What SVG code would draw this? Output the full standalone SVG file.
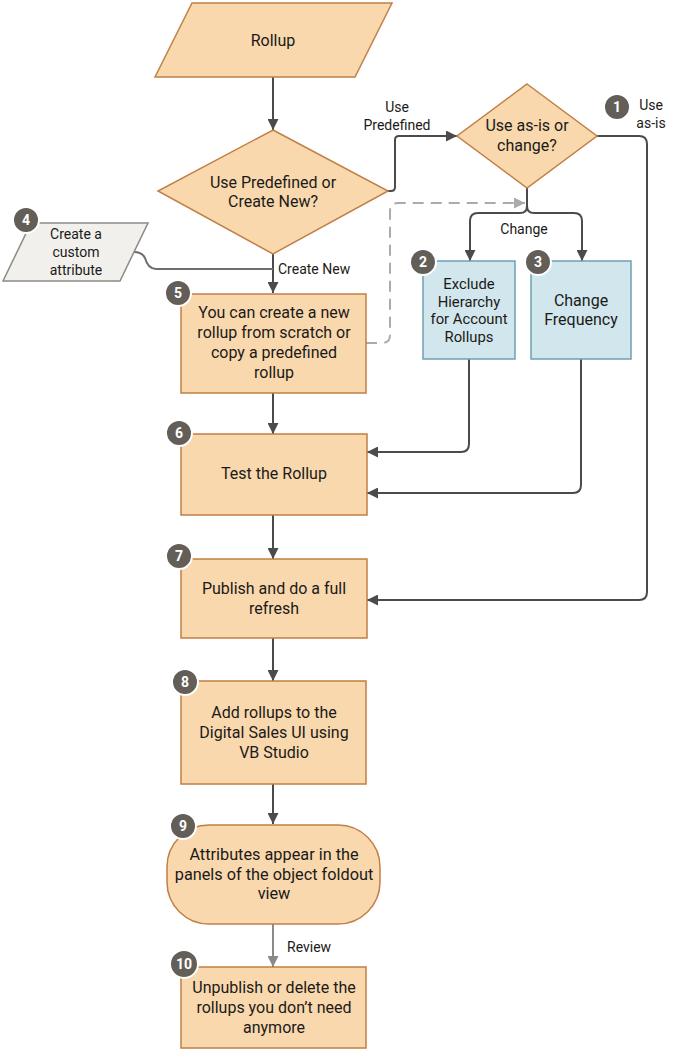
<svg xmlns="http://www.w3.org/2000/svg" width="676" height="1051" viewBox="0 0 676 1051">
<defs>
<style>
.o{fill:#f9d8ae;stroke:#c17f45;stroke-width:1.5}
.b{fill:#d2e6ed;stroke:#6fa0b2;stroke-width:1.5}
.g{fill:#f1f0ec;stroke:#8c8a85;stroke-width:1.5}
.t{font-family:Roboto,"Liberation Sans",sans-serif;font-size:16px;fill:#1b1a18;text-anchor:middle}
.s{font-size:14.8px}
.w{font-size:16.3px}
.l{font-family:Roboto,"Liberation Sans",sans-serif;font-size:14px;fill:#1b1a18}
.c{fill:none;stroke:#4b4b4b;stroke-width:2}
.d{fill:none;stroke:#ababab;stroke-width:2;stroke-dasharray:11,7}
.bc{fill:#645e58;stroke:#fff;stroke-width:2}
.bn{font-family:Roboto,"Liberation Sans",sans-serif;font-size:14px;font-weight:bold;fill:#fff;text-anchor:middle}
</style>
<marker id="a" viewBox="0 0 10 10" refX="10" refY="5" markerWidth="5.5" markerHeight="5.5" orient="auto" markerUnits="strokeWidth"><path d="M0,0L10,5L0,10z" fill="#4b4b4b"/></marker>
<marker id="ag" viewBox="0 0 10 10" refX="10" refY="5" markerWidth="5.5" markerHeight="5.5" orient="auto" markerUnits="strokeWidth"><path d="M0,0L10,5L0,10z" fill="#ababab"/></marker>
<marker id="ag2" viewBox="0 0 10 10" refX="10" refY="5" markerWidth="5.5" markerHeight="5.5" orient="auto" markerUnits="strokeWidth"><path d="M0,0L10,5L0,10z" fill="#8a8a8a"/></marker>
</defs>

<g id="connectors">
<path class="c" d="M273,77V130" marker-end="url(#a)"/>
<path class="c" d="M388,191H391Q395,191 395,187V140Q395,136 399,136H457" marker-end="url(#a)"/>
<path class="c" d="M597,136H639Q647,136 647,144V592Q647,600 639,600H367" marker-end="url(#a)"/>
<path class="c" d="M527,188V206Q527,213 520,213H478Q470,213 470,221V261" marker-end="url(#a)"/>
<path class="c" d="M527,206Q527,213 534,213H574Q582,213 582,221V261" marker-end="url(#a)"/>
<path class="d" d="M366,343H382Q390,343 390,335V211Q390,203 398,203H525" marker-end="url(#ag)"/>
<path class="c" d="M273,254V293" marker-end="url(#a)"/>
<path fill="none" stroke="#6e6e6e" stroke-width="2" d="M134,252Q142,252 145,258Q148,269 156,269H273"/>
<path class="c" d="M469,359V444Q469,452 461,452H367" marker-end="url(#a)"/>
<path class="c" d="M581,359V485Q581,493 573,493H367" marker-end="url(#a)"/>
<path class="c" d="M273,393V434" marker-end="url(#a)"/>
<path class="c" d="M273,515V559" marker-end="url(#a)"/>
<path class="c" d="M273,638V681" marker-end="url(#a)"/>
<path class="c" d="M273,784V824" marker-end="url(#a)"/>
<path fill="none" stroke="#8a8a8a" stroke-width="2" d="M273,924V967" marker-end="url(#ag2)"/>
<text class="l" x="397" y="112" text-anchor="middle">Use</text>
<text class="l" x="397" y="130" text-anchor="middle">Predefined</text>
<text class="l" x="651" y="110" text-anchor="middle">Use</text>
<text class="l" x="651" y="128" text-anchor="middle">as-is</text>
<text class="l" x="524" y="234" text-anchor="middle">Change</text>
<text class="l" x="278" y="274">Create New</text>
<text class="l" x="287" y="952">Review</text>
</g>

<g id="n-rollup">
<path class="o" d="M192,3H392L355,77H155z"/>
<text class="t" x="273" y="46">Rollup</text>
</g>

<g id="n-decision1">
<path class="o" d="M273,130L388,191L273,254L158,191z"/>
<text class="t" x="273" y="188">Use Predefined or</text>
<text class="t" x="273" y="207">Create New?</text>
</g>

<g id="n-decision2">
<path class="o" d="M527,84L597,136L527,188L457,136z"/>
<text class="t" x="527" y="131">Use as-is or</text>
<text class="t" x="527" y="151">change?</text>
<circle class="bc" cx="617" cy="107" r="13"/>
<text class="bn" x="617" y="112">1</text>
</g>

<g id="n-exclude">
<rect class="b" x="423" y="261" width="92" height="98"/>
<text class="t s" x="469" y="289">Exclude</text>
<text class="t s" x="469" y="306.5">Hierarchy</text>
<text class="t s" x="469" y="324">for Account</text>
<text class="t s" x="469" y="341.5">Rollups</text>
<circle class="bc" cx="423" cy="262" r="13"/>
<text class="bn" x="423" y="267">2</text>
</g>

<g id="n-frequency">
<rect class="b" x="531" y="261" width="100" height="98"/>
<text class="t" x="581" y="306">Change</text>
<text class="t" x="581" y="325">Frequency</text>
<circle class="bc" cx="538" cy="262" r="13"/>
<text class="bn" x="538" y="267">3</text>
</g>

<g id="n-custom">
<path class="g" d="M31,223H148L120,281H3z"/>
<text class="l" x="76" y="239" text-anchor="middle">Create a</text>
<text class="l" x="76" y="257" text-anchor="middle">custom</text>
<text class="l" x="76" y="275" text-anchor="middle">attribute</text>
<circle class="bc" cx="26" cy="220" r="13"/>
<text class="bn" x="26" y="225">4</text>
</g>

<g id="n-create">
<rect class="o" x="181" y="294" width="185" height="99"/>
<text class="t" x="274" y="318">You can create a new</text>
<text class="t" x="274" y="338">rollup from scratch or</text>
<text class="t" x="274" y="358">copy a predefined</text>
<text class="t" x="274" y="378">rollup</text>
<circle class="bc" cx="178" cy="293" r="13"/>
<text class="bn" x="178" y="298">5</text>
</g>

<g id="n-test">
<rect class="o" x="181" y="434" width="186" height="81"/>
<text class="t" x="274" y="479">Test the Rollup</text>
<circle class="bc" cx="179" cy="433" r="13"/>
<text class="bn" x="179" y="438">6</text>
</g>

<g id="n-publish">
<rect class="o" x="181" y="559" width="186" height="79"/>
<text class="t" x="274" y="594">Publish and do a full</text>
<text class="t" x="274" y="614">refresh</text>
<circle class="bc" cx="179" cy="556" r="13"/>
<text class="bn" x="179" y="561">7</text>
</g>

<g id="n-add">
<rect class="o" x="181" y="681" width="185" height="103"/>
<text class="t" x="274" y="718">Add rollups to the</text>
<text class="t" x="274" y="738">Digital Sales UI using</text>
<text class="t" x="274" y="757.5">VB Studio</text>
<circle class="bc" cx="185" cy="682" r="13"/>
<text class="bn" x="185" y="687">8</text>
</g>

<g id="n-attributes">
<rect class="o" x="167" y="825" width="213" height="99" rx="42"/>
<text class="t w" x="274" y="860">Attributes appear in the</text>
<text class="t w" x="274" y="879.7">panels of the object foldout</text>
<text class="t w" x="274" y="899.4">view</text>
<circle class="bc" cx="183" cy="826" r="13"/>
<text class="bn" x="183" y="831">9</text>
</g>

<g id="n-unpublish">
<rect class="o" x="181" y="967" width="185" height="81"/>
<text class="t" x="274" y="993">Unpublish or delete the</text>
<text class="t" x="274" y="1013">rollups you don’t need</text>
<text class="t" x="274" y="1033">anymore</text>
<circle class="bc" cx="184" cy="964" r="14"/>
<text class="bn" x="184" y="969">10</text>
</g>
</svg>
